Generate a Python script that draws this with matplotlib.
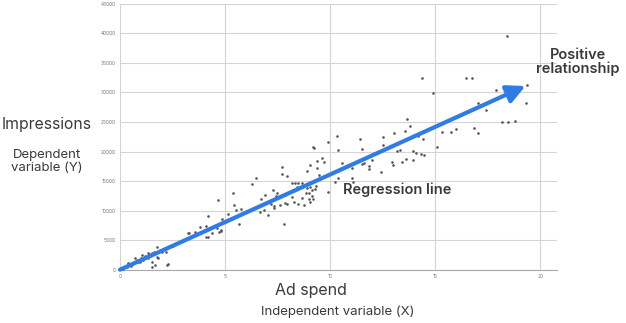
import matplotlib
matplotlib.use("Agg")
from matplotlib import pyplot as plt

# ad spend (x) / impressions (y)
ad_spend = [
    0.05, 0.10, 0.14, 0.20, 0.24, 0.33, 0.38, 0.45, 0.50, 0.57, 0.62, 0.71, 0.81, 0.86, 0.95,
    1.00, 1.05, 1.10, 1.19, 1.20, 1.33, 1.33, 1.40, 1.52, 1.52, 1.52, 1.60, 1.67, 1.76, 1.76,
    1.81, 1.90, 2.00, 2.10, 2.19, 2.24, 2.29, 2.52, 2.81,
    3.24, 3.29, 3.57, 3.81, 4.10, 4.10, 4.19, 4.19, 4.38, 4.62, 4.67, 4.71, 4.81, 4.81, 4.86,
    5.14, 5.38, 5.43, 5.52, 5.67, 5.76, 6.29, 6.48, 6.67, 6.71, 6.86, 6.90, 7.05, 7.10, 7.19,
    7.29, 7.33, 7.33, 7.43, 7.48, 7.62, 7.71, 7.71, 7.71, 7.81, 7.81, 7.86, 7.95, 7.95, 8.19,
    8.19, 8.29, 8.33, 8.43, 8.48, 8.48, 8.67, 8.67, 8.76, 8.86, 8.90, 8.90, 9.00, 9.00, 9.05,
    9.05, 9.05, 9.14, 9.14, 9.19, 9.19, 9.24, 9.24, 9.29, 9.33, 9.38, 9.38, 9.48, 9.62, 9.71,
    9.90, 9.90, 10.24, 10.33, 10.38, 10.38, 10.57, 11.05, 11.05, 11.10, 11.43, 11.52, 11.52,
    11.62, 11.86, 11.86, 12.00, 12.43, 12.52, 12.52, 12.95, 13.00, 13.05, 13.19, 13.33, 13.43,
    13.57, 13.62, 13.67, 13.81, 13.95, 13.95, 14.10, 14.19, 14.33, 14.38, 14.43, 14.43, 14.48,
    14.90, 15.10, 15.33, 15.76, 16.00, 16.48, 16.76, 16.86, 17.05, 17.05, 17.43, 17.90, 18.19,
    18.33, 18.43, 18.48, 18.81, 19.33, 19.38,
]
impressions = [
    100, 340, 170, 400, 510, 510, 1180, 900, 600, 1010, 1180, 2030, 1690, 1350, 1350,
    2000, 2540, 1690, 2200, 2300, 2870, 2030, 2600, 2870, 1350, 510, 3000, 850, 3890, 2200,
    2030, 3300, 3040, 3500, 3040, 850, 1010, 4050, 4730,
    6250, 6250, 6420, 7270, 7440, 5580, 9130, 5580, 6250, 7100, 11830, 6420, 6760, 6590, 8620,
    9460, 13010, 10990, 10140, 7770, 10310, 14530, 15550, 9800, 12000, 10140, 12680, 9300, 11490, 11150,
    13520, 10820, 10480, 12510, 13010, 10990, 17410, 16220, 12680, 12680, 7770, 11320, 15890, 11150, 14700,
    12340, 11490, 14700, 14030, 14700, 11150, 14700, 12170, 10990, 13010, 16730, 13860, 13010, 12000, 17750,
    14030, 11490, 13520, 12510, 12000, 20790, 20620, 15040, 13690, 14200, 18420, 17240, 16060, 18930, 18250,
    21630, 13180, 14870, 22650, 20280, 15550, 18080, 17240, 15550, 14870, 22140, 20450, 17910,
    18080, 17580, 17070, 18590, 16560, 22480, 21130, 18250, 17750, 23150, 20110, 20280, 18250,
    23490, 18760, 25520, 24340, 20110, 18590, 19770, 22650, 19600, 32450, 23320, 22140, 19440,
    29910, 20790, 23320, 23320, 23830, 32450, 32450, 24000, 28220, 23150, 27040, 30420, 25010,
    30930, 39550, 25010, 25180, 28220, 31270,
]

# regression arrow end point
line_end = (19.3, 31100)

x_ticks = [0, 5, 10, 15, 20]
y_ticks = [0, 5000, 10000, 15000, 20000, 25000, 30000, 35000, 40000, 45000]

plt.rcParams['font.family'] = ['Inter', 'DejaVu Sans']

fig = plt.figure(figsize=(6.26, 3.23), dpi=100)
ax = fig.add_axes([0.1917, 0.165, 0.698, 0.823])

ax.scatter(ad_spend, impressions, s=3.5, c='#555555', linewidths=0, zorder=3)

blue = '#2f7ce6'
ax.annotate('', xy=line_end, xytext=(0, 0),
            arrowprops=dict(arrowstyle='-|>,head_length=1.1,head_width=0.55',
                            color=blue, lw=3.0, shrinkA=0, shrinkB=0),
            zorder=4)

ax.set_xlim(0, 20.8)
ax.set_ylim(0, 45000)
ax.set_xticks(x_ticks)
ax.set_yticks(y_ticks)
ax.tick_params(length=0, labelsize=3.5, labelcolor='#777777', pad=3)
ax.grid(True, color='#d4d4d4', lw=0.8)
ax.set_axisbelow(True)
for side in ['top', 'right', 'left']:
    ax.spines[side].set_visible(False)
ax.spines['bottom'].set_color('#aaaaaa')
ax.spines['bottom'].set_linewidth(0.8)

txt = '#3a3a3a'
ax.text(13.2, 13500, 'Regression line', fontsize=10.5, fontweight='semibold', color=txt,
        ha='center', va='center')
fig.text(0.923, 0.808, 'Positive\nrelationship', fontsize=10.5, fontweight='semibold', color=txt,
         ha='center', va='center', linespacing=1.0)

fig.text(0.074, 0.615, 'Impressions', fontsize=11.3, color=txt, ha='center', va='center')
fig.text(0.075, 0.50, 'Dependent\nvariable (Y)', fontsize=9.5, color=txt, ha='center',
         va='center', linespacing=1.1)
fig.text(0.497, 0.102, 'Ad spend', fontsize=11.5, color=txt, ha='center', va='center')
fig.text(0.540, 0.034, 'Independent variable (X)', fontsize=9.5, color=txt, ha='center',
         va='center')

plt.savefig('out.png', dpi=100)
